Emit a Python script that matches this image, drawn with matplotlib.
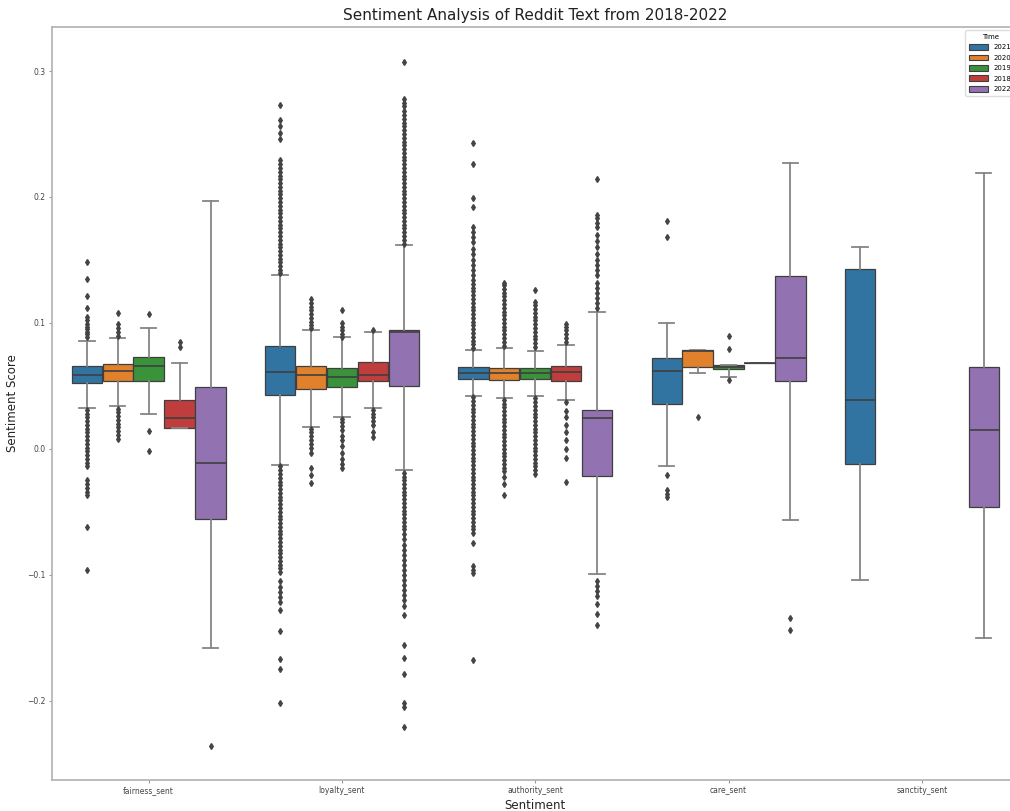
import matplotlib
matplotlib.use("Agg")
import matplotlib.pyplot as plt
from matplotlib.patches import Patch

# categories and hue levels (order as drawn)
categories = ["fairness_sent", "loyalty_sent", "authority_sent", "care_sent", "sanctity_sent"]
years = ["2021", "2020", "2019", "2018", "2022"]
colors = ["#3274a1", "#e1812c", "#3a923a", "#c03d3e", "#9372b2"]

# box statistics: rows = years, columns = categories (None = no data)
q1 = [
    [0.0522, 0.043, 0.0556, 0.0357, -0.0119],
    [0.054, 0.0473, 0.0548, 0.0653, None],
    [0.054, 0.049, 0.0556, 0.0632, None],
    [0.0167, 0.054, 0.054, 0.0685, None],
    [-0.056, 0.050, -0.0215, 0.054, -0.0458],
]
med = [
    [0.0587, 0.0608, 0.0605, 0.0616, 0.0384],
    [0.062, 0.059, 0.0605, 0.078, None],
    [0.0657, 0.057, 0.0605, 0.065, None],
    [0.0246, 0.0583, 0.061, 0.0685, None],
    [-0.011, 0.093, 0.0246, 0.072, 0.015],
]
q3 = [
    [0.0655, 0.0813, 0.065, 0.072, 0.1429],
    [0.0675, 0.066, 0.064, 0.0783, None],
    [0.0726, 0.0643, 0.064, 0.0667, None],
    [0.0388, 0.069, 0.0655, 0.0685, None],
    [0.0488, 0.0944, 0.031, 0.1373, 0.065],
]
whislo = [
    [0.0325, -0.0125, 0.042, -0.014, -0.1045],
    [0.034, 0.0175, 0.040, 0.060, None],
    [0.0273, 0.025, 0.042, 0.0574, None],
    [0.0167, 0.0325, 0.039, 0.0685, None],
    [-0.158, -0.017, -0.0997, -0.0563, -0.1505],
]
whishi = [
    [0.0857, 0.1384, 0.0785, 0.100, 0.160],
    [0.088, 0.094, 0.0797, 0.0783, None],
    [0.0956, 0.0889, 0.078, 0.0667, None],
    [0.068, 0.093, 0.0825, 0.0685, None],
    [0.197, 0.162, 0.109, 0.2267, 0.2188],
]

# outliers per category, one list per year
fliers_fairness = [
    [0.148, 0.135, 0.121, 0.112, 0.105, 0.102, 0.099, 0.097, 0.095, 0.093, 0.091, 0.089,
     0.031, 0.028, 0.025, 0.022, 0.019, 0.016, 0.013, 0.010, 0.007, 0.004, 0.001, -0.002,
     -0.005, -0.008, -0.011, -0.014, -0.025, -0.028, -0.031, -0.034, -0.037, -0.062, -0.096],
    [0.108, 0.099, 0.096, 0.093, 0.090,
     0.032, 0.029, 0.026, 0.023, 0.020, 0.017, 0.014, 0.011, 0.008],
    [0.107, 0.014, -0.002],
    [0.085, 0.081],
    [-0.236],
]
fliers_loyalty = [
    [0.273, 0.261, 0.256, 0.251, 0.246, 0.229, 0.226, 0.223, 0.220, 0.217, 0.214, 0.211,
     0.208, 0.205, 0.202, 0.199, 0.196, 0.193, 0.190, 0.187, 0.184, 0.181, 0.178, 0.175,
     0.172, 0.169, 0.166, 0.163, 0.160, 0.157, 0.154, 0.151, 0.148, 0.145, 0.142, 0.140,
     -0.014, -0.017, -0.020, -0.023, -0.026, -0.029, -0.032, -0.035, -0.038, -0.041,
     -0.044, -0.047, -0.050, -0.053, -0.056, -0.059, -0.062, -0.065, -0.068, -0.071,
     -0.074, -0.077, -0.080, -0.083, -0.086, -0.089, -0.092, -0.095, -0.098, -0.105,
     -0.110, -0.114, -0.118, -0.122, -0.128, -0.145, -0.167, -0.175, -0.202],
    [0.119, 0.116, 0.113, 0.110, 0.107, 0.104, 0.101, 0.098, 0.096,
     0.016, 0.013, 0.010, 0.007, 0.004, 0.001, -0.003, -0.015, -0.021, -0.027],
    [0.110, 0.100, 0.097, 0.094, 0.091, 0.089,
     0.024, 0.021, 0.018, 0.015, 0.010, 0.007, 0.002, -0.003, -0.008, -0.012, -0.015],
    [0.094, 0.031, 0.028, 0.025, 0.022, 0.019, 0.013, 0.009],
    [0.307, 0.278, 0.275, 0.272, 0.268, 0.265, 0.262, 0.259, 0.256, 0.253, 0.250, 0.247,
     0.244, 0.241, 0.238, 0.235, 0.232, 0.229, 0.226, 0.223, 0.220, 0.217, 0.214, 0.211,
     0.208, 0.205, 0.202, 0.199, 0.196, 0.193, 0.190, 0.187, 0.184, 0.181, 0.178, 0.175,
     0.172, 0.169, 0.166, 0.163,
     -0.019, -0.022, -0.025, -0.028, -0.031, -0.034, -0.037, -0.040, -0.043, -0.046,
     -0.049, -0.052, -0.055, -0.058, -0.061, -0.064, -0.068, -0.072, -0.076, -0.080,
     -0.084, -0.088, -0.092, -0.096, -0.100, -0.104, -0.108, -0.112, -0.116, -0.120,
     -0.125, -0.132, -0.156, -0.166, -0.179, -0.202, -0.205, -0.221],
]
fliers_authority = [
    [0.243, 0.226, 0.199, 0.192, 0.176, 0.172, 0.168, 0.164, 0.159, 0.155, 0.150, 0.146,
     0.142, 0.138, 0.134, 0.131, 0.128, 0.125, 0.122, 0.119, 0.116, 0.113, 0.110, 0.107,
     0.104, 0.101, 0.098, 0.095, 0.092, 0.089, 0.086, 0.083, 0.080,
     0.041, 0.038, 0.035, 0.032, 0.029, 0.026, 0.023, 0.020, 0.017, 0.014, 0.011, 0.008,
     0.005, 0.002, -0.001, -0.004, -0.007, -0.010, -0.013, -0.016, -0.019, -0.022, -0.025,
     -0.028, -0.031, -0.034, -0.037, -0.040, -0.043, -0.046, -0.049, -0.052, -0.055,
     -0.058, -0.061, -0.064, -0.067, -0.075, -0.093, -0.096, -0.099, -0.168],
    [0.132, 0.130, 0.127, 0.124, 0.121, 0.118, 0.115, 0.112, 0.109, 0.106, 0.103, 0.100,
     0.097, 0.094, 0.091, 0.088, 0.085, 0.082,
     0.039, 0.036, 0.033, 0.030, 0.027, 0.024, 0.021, 0.018, 0.015, 0.012, 0.009, 0.006,
     0.003, 0.000, -0.003, -0.006, -0.009, -0.012, -0.015, -0.018, -0.022, -0.028, -0.037],
    [0.126, 0.117, 0.114, 0.111, 0.108, 0.105, 0.102, 0.099, 0.096, 0.093, 0.090, 0.087,
     0.084, 0.081,
     0.040, 0.037, 0.034, 0.031, 0.028, 0.025, 0.022, 0.019, 0.016, 0.013, 0.010, 0.007,
     0.004, 0.001, -0.002, -0.005, -0.008, -0.011, -0.014, -0.017, -0.020],
    [0.0995, 0.097, 0.094, 0.091, 0.088, 0.085,
     0.037, 0.030, 0.025, 0.019, 0.013, 0.007, 0.000, -0.007, -0.026],
    [0.214, 0.186, 0.183, 0.179, 0.176, 0.170, 0.165, 0.160, 0.155, 0.150, 0.146, 0.142,
     0.138, 0.132, 0.128, 0.124, 0.120, 0.116, 0.112,
     -0.105, -0.109, -0.113, -0.117, -0.123, -0.131, -0.140],
]
fliers_care = [
    [0.181, 0.168, -0.021, -0.033, -0.036, -0.038],
    [0.025],
    [0.090, 0.079, 0.055],
    [],
    [-0.134, -0.144],
]
fliers_sanctity = [[], [], [], [], []]

fliers = [fliers_fairness, fliers_loyalty, fliers_authority, fliers_care, fliers_sanctity]

line_col = "#3f3f3f"
n_hue = len(years)
box_w = 0.8 / n_hue

fig = plt.figure(figsize=(10.1, 8.11), dpi=100)
ax = fig.add_axes([52 / 1010, 31 / 811, 966.5 / 1010, 753 / 811])

for h, year in enumerate(years):
    stats = []
    pos = []
    for c in range(len(categories)):
        if med[h][c] is None:
            continue
        stats.append(dict(med=med[h][c], q1=q1[h][c], q3=q3[h][c],
                          whislo=whislo[h][c], whishi=whishi[h][c],
                          fliers=fliers[c][h]))
        pos.append(c + (h - (n_hue - 1) / 2) * box_w)
    ax.bxp(stats, positions=pos, widths=box_w * 0.98, patch_artist=True,
           capwidths=box_w * 0.5, manage_ticks=False,
           boxprops=dict(facecolor=colors[h], edgecolor=line_col, linewidth=0.9),
           medianprops=dict(color=line_col, linewidth=1.2),
           whiskerprops=dict(color="#858585", linewidth=1.3),
           capprops=dict(color="#858585", linewidth=1.3),
           flierprops=dict(marker="d", markersize=3.0, markerfacecolor="#444444",
                           markeredgecolor="#444444", linestyle="none"))

ax.set_xlim(-0.5, len(categories) - 0.5)
ax.set_ylim(-0.263, 0.335)
ax.set_xticks(range(len(categories)))
ax.set_xticklabels(categories)
ax.set_yticks([-0.2, -0.1, 0.0, 0.1, 0.2, 0.3])
ax.tick_params(labelsize=5.5, length=2.5, width=0.8, color="#999999", labelcolor="#444444", pad=2)
for sp in ax.spines.values():
    sp.set_color("#b0b0b0")
    sp.set_linewidth(1.2)

ax.set_xlabel("Sentiment", fontsize=8.5, labelpad=3, color="#222222")
ax.set_ylabel("Sentiment Score", fontsize=8.5, labelpad=6, color="#222222")
ax.set_title("Sentiment Analysis of Reddit Text from 2018-2022", fontsize=11, pad=5, color="#222222")

handles = [Patch(facecolor=colors[h], edgecolor=line_col, linewidth=0.8, label=y) for h, y in enumerate(years)]
leg = ax.legend(handles=handles, title="Time", loc="upper right", fontsize=5, title_fontsize=5,
                handlelength=2.8, handleheight=0.9, labelspacing=0.6, borderpad=0.5,
                framealpha=1.0, edgecolor="#dddddd", fancybox=True)

fig.savefig("out.png", dpi=100)
